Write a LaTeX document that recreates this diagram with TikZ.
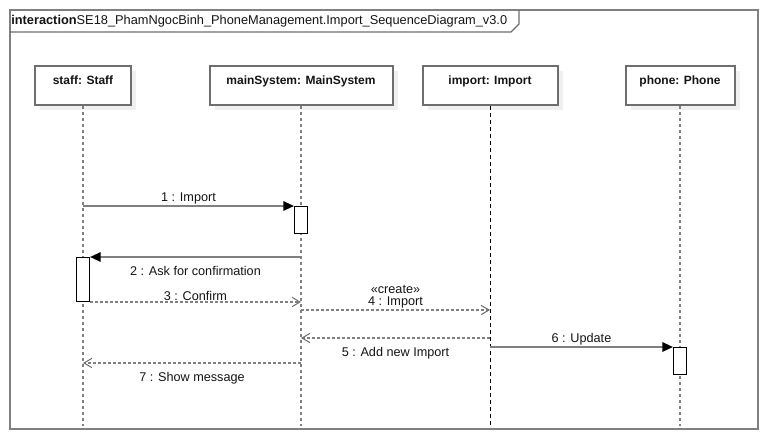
\documentclass[tikz,border=0pt]{standalone}
\usepackage{fontspec}
\setmainfont{Liberation Sans}
\usetikzlibrary{arrows.meta,shadows}
\definecolor{sdGray}{RGB}{128,128,128}
\definecolor{sdDark}{RGB}{110,110,110}
\definecolor{sdShade}{RGB}{240,240,240}
\definecolor{sdText}{RGB}{20,20,20}

\begin{document}
\begin{tikzpicture}[
    x=0.75pt, y=-0.75pt,
    font=\fontsize{9.5}{10}\selectfont, text=sdText,
    frame/.style={draw=sdGray, line width=1.5pt},
    lifehead/.style={rectangle, draw=sdDark, line width=1.5pt, fill=white, inner xsep=0pt, inner ysep=0pt,
      text height=13.5pt, text depth=15.75pt, font=\fontsize{9}{10}\selectfont\bfseries,
      drop shadow={shadow xshift=3.75pt, shadow yshift=-3.75pt, fill=sdShade, opacity=1}},
    lifeline/.style={draw=sdGray, line width=1.5pt, dash pattern=on 2.25pt off 2.25pt},
    actbar/.style={rectangle, draw=black, line width=0.75pt, fill=white, minimum width=9.75pt, inner sep=0pt, anchor=north},
    syncmsg/.style={draw=sdGray, line width=1.5pt, -{Triangle[length=8pt, width=7pt, color=black]}},
    replymsg/.style={draw=sdGray, line width=1.5pt, dash pattern=on 2.25pt off 1.5pt,
      -{Straight Barb[length=6pt, width=7pt, color=sdDark, line width=0.75pt]}},
    msgnote/.style={inner sep=0.3pt},
    msgnote below/.style={below, inner sep=3pt, yshift=-3.5pt}
]
  \useasboundingbox (0,0) rectangle (768,440);

  % frame and its name tab
  \draw[frame] (10,10) rectangle (758,429);
  \draw[draw=sdDark, line width=0.9pt] (10,32) -- (511,32) -- (519,24) -- (519,10);
  \node[anchor=west, inner sep=0pt, font=\fontsize{9.6}{10}\selectfont] (title) at (11,21)
    {\textbf{interaction}SE18\_PhamNgocBinh\_PhoneManagement.Import\_SequenceDiagram\_v3.0};

  % lifeline heads
  \node[lifehead, minimum width=72pt] (staff) at (83,85.5) {staff: Staff};
  \node[lifehead, minimum width=137.25pt] (mainSystem) at (301,85.5) {mainSystem: MainSystem};
  \node[lifehead, minimum width=101.25pt] (import) at (490,85.5) {import: Import};
  \node[lifehead, minimum width=81.75pt] (phone) at (680,85.5) {phone: Phone};

  \coordinate (staffEnd) at (83,426);
  \coordinate (mainEnd) at (301,426);
  \coordinate (importEnd) at (490,426);
  \coordinate (phoneEnd) at (680,426);

  \draw[lifeline] (staff) -- (staffEnd);
  \draw[lifeline] (mainSystem) -- (mainEnd);
  \draw[draw=black, line width=0.75pt, dash pattern=on 3pt off 2.25pt] (import) -- (importEnd);
  \draw[lifeline] (phone) -- (phoneEnd);

  % activations
  \node[actbar, minimum height=20.25pt] (act1) at (301,206) {};
  \node[actbar, minimum height=33pt] (act2) at (83,257) {};
  \node[actbar, minimum height=20.25pt] (act3) at (680,347) {};

  % message rows
  \coordinate (row4) at (0,310);
  \coordinate (row5) at (0,338);
  \coordinate (row7) at (0,363);

  \draw[syncmsg] (staff |- act1.north) -- node[msgnote, above] {1 : Import} (act1.north west);
  \draw[syncmsg] (mainSystem |- act2.north) -- node[msgnote below] {2 : Ask for confirmation} (act2.north east);
  \draw[replymsg] (act2.south east) -- node[msgnote, above] {3 : Confirm} (mainSystem |- act2.south);
  \draw[replymsg] (mainSystem |- row4) -- node[msgnote, above, align=center] {«create»\\[-0.5pt]4 : Import} (import |- row4);
  \draw[replymsg] (import |- row5) -- node[msgnote below] {5 : Add new Import} (mainSystem |- row5);
  \draw[syncmsg] (import |- act3.north) -- node[msgnote, above] {6 : Update} (act3.north west);
  \draw[replymsg] (mainSystem |- row7) -- node[msgnote below] {7 : Show message} (staff |- row7);
\end{tikzpicture}
\end{document}
